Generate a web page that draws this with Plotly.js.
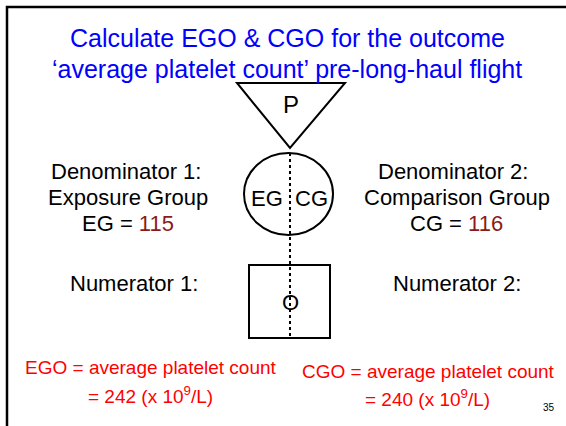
<!DOCTYPE html>
<html>
<head>
<meta charset="utf-8">
<script src="https://cdn.plot.ly/plotly-3.0.1.min.js"></script>
<style>html,body{margin:0;padding:0;background:#fff;}#chart{width:566px;height:426px;}</style>
</head>
<body>
<div id="chart"></div>
<script>
// Data
const titleLines = ["Calculate EGO &amp; CGO for the outcome", "‘average platelet count’ pre-long-haul flight"];
const groups = ["EG", "CG"];
const groupNames = ["Exposure Group", "Comparison Group"];
const denominators = [115, 116];
const outcomes = [242, 240];
const outcomeLabel = "average platelet count";
const unitLabel = "(x 10<sup>9</sup>/L)";
const slideNumber = "35";

const F = "Liberation Sans, Arial, sans-serif";
const BLACK = "#000000", BLUE = "#0000FF", RED = "#FF0000", MAROON = "#8B1A1A";

function ann(x, y, text, size, color, extra) {
  return Object.assign({x: x, y: y, xref: "x", yref: "y", text: text, showarrow: false,
    font: {family: F, size: size, color: color}, xanchor: "center", yanchor: "middle"}, extra || {});
}

const annotations = [
  ann(287, 38, titleLines[0], 25, BLUE),
  ann(287, 69, titleLines[1], 25, BLUE),
  ann(291, 104, "P", 24, BLACK),
  ann(126, 171, "Denominator 1:", 22, BLACK),
  ann(128, 197, groupNames[0], 22, BLACK),
  ann(128, 223, groups[0] + " = <span style='color:" + MAROON + "'>" + denominators[0] + "</span>", 22, BLACK),
  ann(453, 171, "Denominator 2:", 22, BLACK),
  ann(457, 197, groupNames[1], 22, BLACK),
  ann(456, 223, groups[1] + " = <span style='color:" + MAROON + "'>" + denominators[1] + "</span>", 22, BLACK),
  ann(267, 198, groups[0], 22, BLACK),
  ann(311, 198, groups[1], 22, BLACK),
  ann(134, 283, "Numerator 1:", 22, BLACK),
  ann(457, 283, "Numerator 2:", 22, BLACK),
  ann(290, 302, "O", 22, BLACK),
  ann(151, 367, groups[0] + "O = " + outcomeLabel, 19, RED),
  ann(150, 395, "= " + outcomes[0] + " " + unitLabel, 19, RED),
  ann(428, 371, groups[1] + "O = " + outcomeLabel, 19, RED),
  ann(427, 398, "= " + outcomes[1] + " " + unitLabel, 19, RED),
  ann(549, 407, slideNumber, 10, BLACK)
];

const shapes = [
  {type: "rect", xref: "x", yref: "y", x0: 7, y0: 7, x1: 620, y1: 500, line: {color: BLACK, width: 2.5}},
  {type: "path", xref: "x", yref: "y", path: "M 237 83 L 345 83 L 290 148 Z", line: {color: BLACK, width: 2}},
  {type: "circle", xref: "x", yref: "y", x0: 244, y0: 153, x1: 333, y1: 235, line: {color: BLACK, width: 2}},
  {type: "rect", xref: "x", yref: "y", x0: 249, y0: 265, x1: 330, y1: 338, line: {color: BLACK, width: 2}},
  {type: "line", xref: "x", yref: "y", x0: 290, y0: 153, x1: 290, y1: 338, line: {color: BLACK, width: 2, dash: "dot"}}
];

const layout = {
  width: 566, height: 426,
  margin: {l: 0, r: 0, t: 0, b: 0},
  paper_bgcolor: "#ffffff", plot_bgcolor: "#ffffff",
  xaxis: {range: [0, 566], visible: false, fixedrange: true},
  yaxis: {range: [426, 0], visible: false, fixedrange: true},
  showlegend: false,
  shapes: shapes,
  annotations: annotations
};

Plotly.newPlot("chart", [{x: [], y: [], type: "scatter", mode: "markers", hoverinfo: "skip"}], layout, {staticPlot: true, displayModeBar: false});
</script>
</body>
</html>
